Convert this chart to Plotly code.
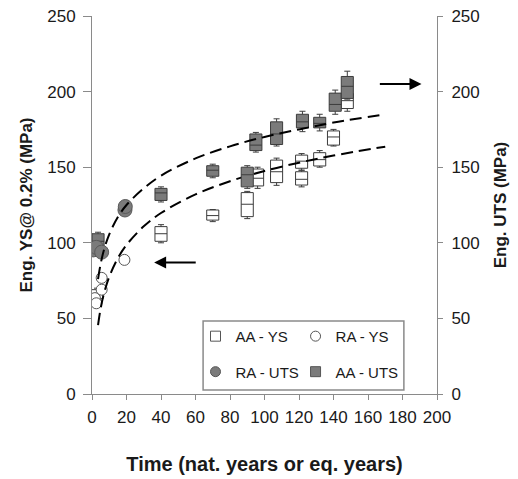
import plotly.graph_objects as go

# ---------------- data ----------------
# AA - YS (box summaries)
aa_ys_x   = [2.9, 40, 70, 90, 96, 107, 121.5, 121.5, 132, 140, 148]
aa_ys_lo  = [62, 100, 114, 116, 136, 138, 137, 148, 150, 164, 187]
aa_ys_q1  = [63, 101, 115, 117.3, 137.6, 139.8, 138.2, 149.3, 150.8, 164.6, 188.8]
aa_ys_med = [66, 106, 118, 125.5, 142.7, 147, 142, 154, 155, 170, 194]
aa_ys_q3  = [69, 110.7, 121.7, 133.2, 148.8, 154.7, 147, 158, 159.6, 174, 198.7]
aa_ys_hi  = [70, 112, 122, 134, 150, 156, 148, 159, 161, 175, 200]

# AA - UTS (box summaries)
aa_uts_x   = [3.5, 40, 70, 90, 95, 107, 122, 132, 141, 148]
aa_uts_lo  = [96, 127, 143, 136, 160, 164, 173.5, 174, 185, 195]
aa_uts_q1  = [97, 128, 144, 137, 161, 165, 176, 176, 187, 195.5]
aa_uts_med = [101, 133, 148, 145, 164.6, 172, 180, 179, 191.5, 203.5]
aa_uts_q3  = [106, 136, 151, 150, 172, 180, 185, 183, 199, 210]
aa_uts_hi  = [107, 137, 152, 151, 173, 182, 187, 185, 201, 213.5]

# RA - YS (points)
ra_ys_x = [1.0, 1.7, 2.5, 5.6, 5.6, 18.8]
ra_ys_y = [62, 63.4, 60, 76.8, 69, 88.7]

# RA - UTS (points)
ra_uts_x = [0.8, 2.5, 5.6, 19.1, 19.3]
ra_uts_y = [95.3, 97, 93.8, 121.7, 124]

# trend curves
fit_x     = [3.5, 5, 7, 10, 15, 20, 30, 40, 60, 80, 100, 120, 140, 170]
fit_uts_y = [76, 86, 95.6, 105.6, 117, 125, 136, 144.4, 155.8, 163.8, 170, 175, 179.5, 185]
fit_ys_y  = [45.6, 56.5, 66.7, 77.5, 89.9, 98.6, 110.9, 119.7, 132, 140.7, 147.5, 153, 157.7, 163.6]

x_ticks = [0, 20, 40, 60, 80, 100, 120, 140, 160, 180, 200]
y_ticks = [0, 50, 100, 150, 200, 250]

# ---------------- styles ----------------
FONT = "Liberation Sans, Arial, sans-serif"
GRAY_FILL = "#7b7b7b"
EDGE = "#3c3c3c"
AXIS = "#8a8a8a"

fig = go.Figure()

fig.add_trace(go.Box(
    x=aa_ys_x, lowerfence=aa_ys_lo, q1=aa_ys_q1, median=aa_ys_med,
    q3=aa_ys_q3, upperfence=aa_ys_hi, width=7, whiskerwidth=0.5,
    fillcolor="white", line=dict(color=EDGE, width=1), showlegend=False,
    hoverinfo="skip", yaxis="y"))

fig.add_trace(go.Box(
    x=aa_uts_x, lowerfence=aa_uts_lo, q1=aa_uts_q1, median=aa_uts_med,
    q3=aa_uts_q3, upperfence=aa_uts_hi, width=7, whiskerwidth=0.5,
    fillcolor=GRAY_FILL, line=dict(color=EDGE, width=1), showlegend=False,
    hoverinfo="skip", yaxis="y2"))

fig.add_trace(go.Scatter(
    x=ra_ys_x, y=ra_ys_y, mode="markers", showlegend=False,
    marker=dict(symbol="circle", size=11, color="white",
                line=dict(color="#555555", width=1)), yaxis="y"))

fig.add_trace(go.Scatter(
    x=ra_uts_x, y=ra_uts_y, mode="markers", showlegend=False,
    marker=dict(symbol="circle", size=14, color=GRAY_FILL,
                line=dict(color="#5a5a5a", width=1)), yaxis="y2"))

fig.add_trace(go.Scatter(
    x=fit_x, y=fit_uts_y, mode="lines", line_shape="spline", showlegend=False,
    line=dict(color="black", width=2, dash="12px,6px"), yaxis="y2"))
fig.add_trace(go.Scatter(
    x=fit_x, y=fit_ys_y, mode="lines", line_shape="spline", showlegend=False,
    line=dict(color="black", width=2, dash="12px,6px"), yaxis="y"))

# legend-only entries
def leg(name, symbol, fill, legend, group):
    fig.add_trace(go.Scatter(
        x=[None], y=[None], mode="markers", name=name, legend=legend,
        legendgroup=group,
        marker=dict(symbol=symbol, size=10, color=fill,
                    line=dict(color="#555555", width=1))))

leg("AA - YS", "square", "white", "legend", "g1")
leg("RA - UTS", "circle", GRAY_FILL, "legend", "g2")
leg("RA - YS", "circle", "white", "legend2", "g3")
leg("AA - UTS", "square", GRAY_FILL, "legend2", "g4")

legend_common = dict(font=dict(family=FONT, size=15, color="#1a1a1a"),
                     bgcolor="rgba(0,0,0,0)", borderwidth=0,
                     tracegroupgap=13, yanchor="top", xanchor="left",
                     itemwidth=30)

fig.update_layout(
    width=518, height=479,
    margin=dict(l=92, r=81, t=16, b=85, autoexpand=False),
    paper_bgcolor="white", plot_bgcolor="white",
    font=dict(family=FONT, size=17, color="#1a1a1a"),
    boxmode="overlay",
    legend=dict(x=0.30, y=0.196, **legend_common),
    legend2=dict(x=0.59, y=0.196, **legend_common),
    xaxis=dict(range=[0, 200], tickvals=x_ticks, ticks="outside", ticklen=5,
               tickcolor=AXIS, showline=True, linecolor=AXIS, linewidth=1,
               showgrid=False, zeroline=False, ticklabelstandoff=3,
               automargin=False, tickfont=dict(size=17),
               title=dict(text="<b>Time (nat. years or eq. years)</b>",
                          font=dict(size=20), standoff=30)),
    yaxis=dict(range=[0, 250], tickvals=y_ticks, ticks="outside", ticklen=8,
               tickcolor=AXIS, showline=True, linecolor=AXIS, linewidth=1,
               showgrid=False, zeroline=False, tickfont=dict(size=17),
               ticklabelstandoff=4, automargin=False,
               title=dict(text="<b>Eng. YS@ 0.2% (MPa)</b>",
                          font=dict(size=17), standoff=10)),
    yaxis2=dict(range=[0, 250], tickvals=y_ticks, ticks="outside", ticklen=5,
                tickcolor=AXIS, showline=True, linecolor=AXIS, linewidth=1,
                showgrid=False, zeroline=False, overlaying="y", side="right",
                tickfont=dict(size=17), ticklabelstandoff=5, automargin=False,
                title=dict(text="<b>Eng. UTS (MPa)</b>",
                           font=dict(size=17), standoff=15)),
    shapes=[dict(type="rect", xref="paper", yref="paper",
                 x0=0.322, x1=0.904, y0=0.0106, y1=0.193,
                 line=dict(color="#8a8a8a", width=1.5),
                 fillcolor="rgba(0,0,0,0)")],
    annotations=[
        dict(x=36, y=87, ax=61, ay=87, xref="x", yref="y", axref="x", ayref="y",
             showarrow=True, arrowhead=2, arrowsize=1.2, arrowwidth=2,
             arrowcolor="black", text=""),
        dict(x=191, y=205, ax=166, ay=205, xref="x", yref="y", axref="x", ayref="y",
             showarrow=True, arrowhead=2, arrowsize=1.2, arrowwidth=2,
             arrowcolor="black", text=""),
    ],
)

fig.write_html("out.html")
